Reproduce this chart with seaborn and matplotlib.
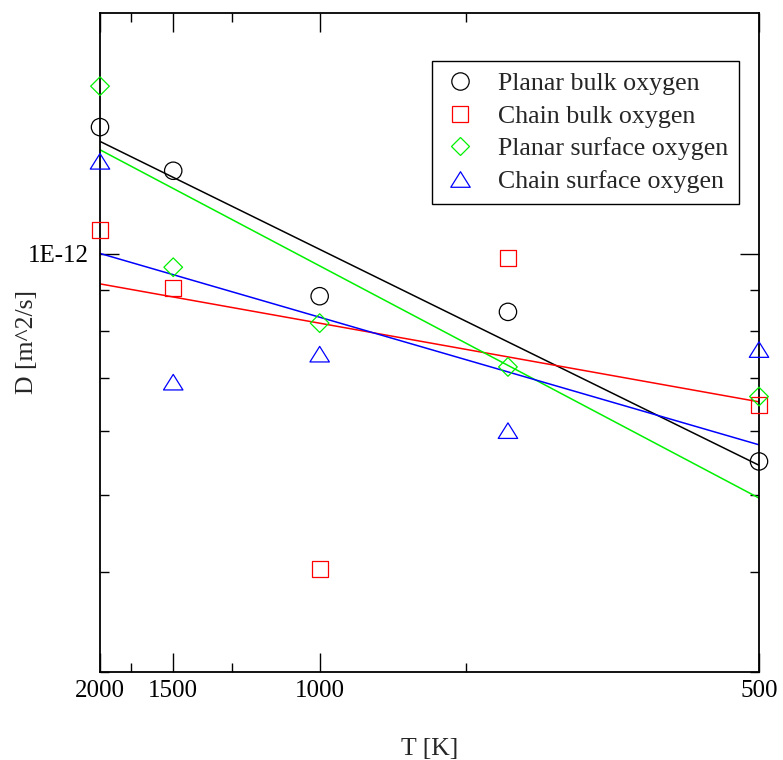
import numpy as np
import pandas as pd
import matplotlib
matplotlib.use("Agg")
import matplotlib.pyplot as plt
from matplotlib.lines import Line2D
from matplotlib.path import Path
from matplotlib.ticker import FixedLocator, NullFormatter, FixedFormatter
import seaborn as sns

# Temperatures of the simulation runs [K]
T_K = [2000, 1500, 1000, 700, 500]

# Diffusion coefficients D [m^2/s]
planar_bulk = [1.44e-12, 1.27e-12, 0.885e-12, 0.846e-12, 0.55e-12]
chain_bulk = [1.07e-12, 0.906e-12, 0.403e-12, 0.989e-12, 0.647e-12]
planar_surface = [1.62e-12, 0.962e-12, 0.819e-12, 0.722e-12, 0.663e-12]
chain_surface = [1.305e-12, 0.691e-12, 0.749e-12, 0.601e-12, 0.759e-12]

# Arrhenius fit lines, evaluated at the ends of the temperature range
fit_T = [2000, 500]
planar_bulk_fit = [1.382e-12, 0.544e-12]
chain_bulk_fit = [0.917e-12, 0.653e-12]
planar_surface_fit = [1.349e-12, 0.495e-12]
chain_surface_fit = [1.001e-12, 0.577e-12]

labels = ["Planar bulk oxygen", "Chain bulk oxygen",
          "Planar surface oxygen", "Chain surface oxygen"]

# Tick temperatures
major_T = [2000, 1500, 1000, 500]
minor_T = [1750, 1250, 750]

sns.set_theme(style="white")
plt.rcParams["font.family"] = ["Liberation Serif", "DejaVu Serif"]
plt.rcParams["mathtext.default"] = "regular"

W, H = 783, 760
fig = plt.figure(figsize=(W / 100, H / 100), dpi=100)
ax = fig.add_axes([100 / W, (H - 672) / H, 659 / W, 659 / H])
ax.set_yscale("log")

colors = ["#000000", "#ff0000", "#00f000", "#0000ff"]
# open equilateral-ish triangle (closed path)
tri = Path([(-1, -0.8), (1, -0.8), (0, 0.8), (-1, -0.8)],
           [Path.MOVETO, Path.LINETO, Path.LINETO, Path.CLOSEPOLY])
markers = ["o", "s", "D", tri]
sizes = [12.5, 11.5, 9.5, 14.0]
series = [planar_bulk, chain_bulk, planar_surface, chain_surface]
fits = [planar_bulk_fit, chain_bulk_fit, planar_surface_fit, chain_surface_fit]

inv_T = [1000.0 / t for t in T_K]
inv_fit = [1000.0 / t for t in fit_T]

for vals, fit, c, m, ms in zip(series, fits, colors, markers, sizes):
    sns.lineplot(x=inv_fit, y=fit, color=c, lw=1.1, ax=ax, legend=False)
    sns.scatterplot(x=inv_T, y=vals, marker=m, s=ms ** 2, facecolors="none",
                    edgecolor=c, linewidth=0.9, ax=ax, legend=False,
                    zorder=3, clip_on=False)

ax.set_xlim(1000 / 2000, 1000 / 500)
ax.set_ylim(3e-13, 2e-12)

ax.xaxis.set_major_locator(FixedLocator([1000 / t for t in major_T]))
ax.xaxis.set_major_formatter(FixedFormatter([str(t) for t in major_T]))
ax.xaxis.set_minor_locator(FixedLocator([1000 / t for t in minor_T]))
ax.xaxis.set_minor_formatter(NullFormatter())

ax.yaxis.set_major_locator(FixedLocator([1e-12]))
ax.yaxis.set_major_formatter(FixedFormatter(["1E-12"]))
ax.yaxis.set_minor_locator(FixedLocator([k * 1e-13 for k in range(3, 10)]))
ax.yaxis.set_minor_formatter(NullFormatter())

ax.tick_params(which="both", direction="in", top=True, right=True,
               left=True, bottom=True, colors="black", labelsize=18, width=1.0)
ax.tick_params(which="major", length=13.7, pad=6)
ax.tick_params(which="minor", length=6.5)
ax.tick_params(axis="y", which="major", pad=8)

for sp in ax.spines.values():
    sp.set_color("black")
    sp.set_linewidth(1.3)

ax.set_xlabel("T [K]", fontsize=18.5, labelpad=26)
ax.set_ylabel("D [m^2/s]", fontsize=18.5)
ax.yaxis.set_label_coords(-0.094, 0.5)

handles = [Line2D([], [], linestyle="none", marker=m, markersize=ms,
                  markerfacecolor="none", markeredgecolor=c, markeredgewidth=0.9)
           for c, m, ms in zip(colors, markers, sizes)]
leg = ax.legend(handles, labels, loc="upper right",
                bbox_to_anchor=(739 / W, 1 - 61 / H), bbox_transform=fig.transFigure,
                borderaxespad=0, fontsize=18.6, frameon=True, fancybox=False,
                framealpha=1, edgecolor="black", borderpad=0.42,
                labelspacing=0.37, handlelength=1.4, handletextpad=0.75)
leg.get_frame().set_linewidth(1.0)

fig.savefig("out.png", dpi=100)
